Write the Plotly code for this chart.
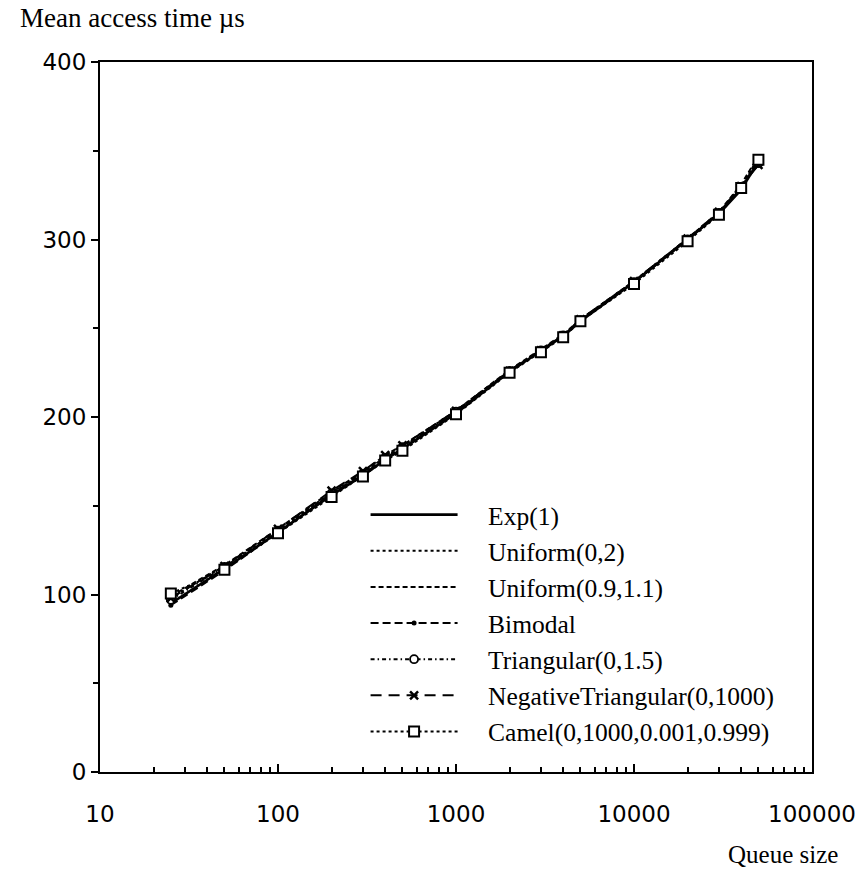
import plotly.graph_objects as go

# Queue sizes at which the mean access time was measured
queue_size = [25, 50, 100, 200, 300, 400, 500, 1000, 2000, 3000, 4000, 5000,
              10000, 20000, 30000, 40000, 50000]

# Mean access time (microseconds) per priority-increment distribution
exp_1 = [95, 114.5, 135, 156, 167, 176, 182, 202, 225.5, 237, 245.5, 254,
         276, 300, 314.5, 328, 344]
uniform_0_2 = [98, 116, 136, 157.5, 168.5, 177.5, 183.5, 203.5, 226, 237.5,
               246, 255, 276.5, 300.5, 315, 330, 346]
uniform_09_11 = [99, 116.5, 137, 158, 169, 178.5, 184, 203.5, 226.5, 238,
                 246.5, 255, 276.5, 300.5, 315.5, 331, 347]
bimodal = [94, 113.5, 135, 156.5, 167.5, 177, 182.5, 202.5, 225.5, 237,
           245.5, 254.5, 276, 300, 315, 329, 345]
triangular = [97, 115.5, 136, 157, 168, 177, 183, 203, 226, 237.5, 246,
              254.5, 276, 300, 315, 329.5, 343]
neg_triangular = [98, 116, 137, 158.5, 169.5, 178.5, 184, 203.5, 226, 237.5,
                  246, 255, 276.5, 300.5, 315.5, 330, 342]
camel = [100.5, 114, 134.5, 155, 166.5, 175.5, 181, 201.5, 225, 236.5, 245,
         254, 275, 299, 314, 329, 345]

x_tick_vals = [10, 100, 1000, 10000, 100000]
x_tick_text = ["10", "100", "1000", "10000", "100000"]
y_tick_vals = [0, 100, 200, 300, 400]
y_tick_text = ["0", "100", "200", "300", "400"]

SERIF = "Liberation Serif, Times New Roman, serif"
SANS = "DejaVu Sans, Arial, sans-serif"
GAP = "\u2002\u2002"  # space between legend sample and its label

series = [
    ("Exp(1)", exp_1, dict(dash="solid", width=2.6), None, "lines"),
    ("Uniform(0,2)", uniform_0_2, dict(dash="dot", width=2), None, "lines"),
    ("Uniform(0.9,1.1)", uniform_09_11, dict(dash="5px,3px", width=2), None, "lines"),
    ("Bimodal", bimodal, dict(dash="8px,4px", width=2),
     dict(symbol="circle", size=5, color="black"), "lines+markers"),
    ("Triangular(0,1.5)", triangular, dict(dash="4px,3px,1.5px,3px", width=2),
     dict(symbol="circle", size=8, color="white", line=dict(color="black", width=1.8)),
     "lines+markers"),
    ("NegativeTriangular(0,1000)", neg_triangular, dict(dash="11px,7px", width=2),
     dict(symbol="x-thin-open", size=8, color="black", line=dict(width=2.5)), "lines+markers"),
    ("Camel(0,1000,0.001,0.999)", camel, dict(dash="dot", width=2),
     dict(symbol="square", size=10, color="white", line=dict(color="black", width=2)),
     "lines+markers"),
]

fig = go.Figure()
for name, yvals, line, marker, mode in series:
    kw = dict(x=queue_size, y=yvals, name=GAP + name, mode=mode,
              line=dict(color="black", **line))
    if marker is not None:
        kw["marker"] = marker
    fig.add_trace(go.Scatter(**kw))

fig.update_layout(
    width=867, height=870,
    margin=dict(l=100, r=55, t=62, b=98),
    paper_bgcolor="white", plot_bgcolor="white",
    font=dict(family=SANS, color="black", size=22),
    showlegend=True,
    legend=dict(
        x=0.373, y=0.395, xanchor="left", yanchor="top",
        bgcolor="rgba(0,0,0,0)",
        font=dict(family=SERIF, size=25.5, color="black"),
        itemwidth=87,
    ),
    annotations=[
        dict(text="Mean access time µs", xref="paper", yref="paper",
             x=-0.115, y=1.0, yshift=44, xanchor="left", yanchor="middle",
             showarrow=False, font=dict(family=SERIF, size=27, color="black")),
        dict(text="Queue size", xref="paper", yref="paper",
             x=1.04, y=0.0, yshift=-82, xanchor="right", yanchor="middle",
             showarrow=False, font=dict(family=SERIF, size=25, color="black")),
    ],
)

fig.update_xaxes(
    type="log", range=[1, 5],
    tickvals=x_tick_vals, ticktext=x_tick_text,
    ticks="inside", ticklen=8, tickwidth=2, tickcolor="black",
    showline=True, linewidth=2, linecolor="black", mirror=True,
    showgrid=False, zeroline=False,
    ticklabelstandoff=20,
    minor=dict(ticks="inside", ticklen=5, tickwidth=1.5, tickcolor="black",
               dtick="D1", showgrid=False),
    tickfont=dict(family=SANS, size=23),
)
fig.update_yaxes(
    range=[0, 400],
    tickvals=y_tick_vals, ticktext=y_tick_text,
    ticks="outside", ticklen=7, tickwidth=2, tickcolor="black",
    showline=True, linewidth=2, linecolor="black", mirror=True,
    showgrid=False, zeroline=False,
    minor=dict(ticks="outside", ticklen=5, tickwidth=1.5, tickcolor="black",
               dtick=50, showgrid=False),
    tickfont=dict(family=SANS, size=23),
)

fig.write_html("out.html")
